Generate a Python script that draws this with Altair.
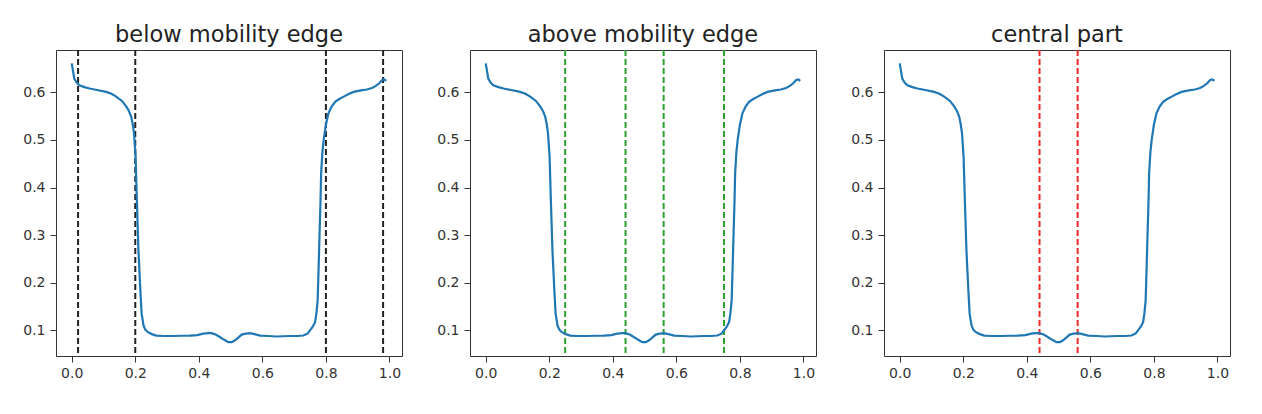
import altair as alt
import pandas as pd

# curve (same in all three panels)
xs = [0.0, 0.008, 0.016, 0.024, 0.04, 0.056, 0.08, 0.108, 0.125, 0.14, 0.158, 0.172, 0.18, 0.187,
      0.192, 0.196, 0.201, 0.205, 0.21, 0.216, 0.22, 0.226, 0.232, 0.24, 0.252, 0.266, 0.29, 0.319,
      0.345, 0.372, 0.395, 0.414, 0.43, 0.44, 0.453, 0.466, 0.48, 0.493, 0.504, 0.514, 0.525, 0.535,
      0.548, 0.561, 0.575, 0.593, 0.62, 0.645, 0.665, 0.687, 0.71, 0.729, 0.742, 0.75, 0.758, 0.766,
      0.77, 0.774, 0.777, 0.78, 0.783, 0.785, 0.789, 0.793, 0.8, 0.808, 0.818, 0.829, 0.842, 0.856,
      0.87, 0.887, 0.91, 0.929, 0.945, 0.956, 0.968, 0.977, 0.984, 0.99]
ys = [0.661, 0.629, 0.62, 0.615, 0.611, 0.608, 0.605, 0.601, 0.597, 0.591, 0.582, 0.570, 0.561, 0.549,
      0.533, 0.514, 0.465, 0.373, 0.268, 0.184, 0.135, 0.11, 0.101, 0.096, 0.092, 0.089, 0.088, 0.088,
      0.0885, 0.089, 0.090, 0.093, 0.094, 0.094, 0.091, 0.086, 0.080, 0.075, 0.075, 0.079, 0.085, 0.091,
      0.093, 0.094, 0.092, 0.089, 0.088, 0.087, 0.0875, 0.088, 0.088, 0.089, 0.093, 0.1, 0.107, 0.117,
      0.135, 0.163, 0.23, 0.303, 0.37, 0.43, 0.475, 0.5, 0.532, 0.556, 0.570, 0.580, 0.586, 0.591,
      0.596, 0.601, 0.604, 0.606, 0.609, 0.613, 0.619, 0.626, 0.627, 0.624]

titles = ["below mobility edge", "above mobility edge", "central part"]
vlines = [[0.02, 0.2, 0.8, 0.98], [0.25, 0.44, 0.56, 0.75], [0.44, 0.56]]
vcolors = ["#222222", "#2ca02c", "#ee2a2a"]

x_ticks = [0.0, 0.2, 0.4, 0.6, 0.8, 1.0]
y_ticks = [0.1, 0.2, 0.3, 0.4, 0.5, 0.6]

curve_df = pd.DataFrame({"x": xs, "y": ys})

FONT = "DejaVu Sans"

xscale = alt.Scale(domain=[-0.0495, 1.0395], nice=False, zero=False)
yscale = alt.Scale(domain=[0.046, 0.689], nice=False, zero=False)

xaxis = alt.Axis(values=x_ticks, format=".1f", title=None, grid=False, domain=False,
                 tickColor="#333333", tickSize=6, tickWidth=1, labelPadding=4, labelFontSize=14,
                 labelColor="#333333", labelFont=FONT)
yaxis = alt.Axis(values=y_ticks, format=".1f", title=None, grid=False, domain=False,
                 tickColor="#333333", tickSize=6, tickWidth=1, labelPadding=5, labelFontSize=14,
                 labelColor="#333333", labelFont=FONT)


def panel(title, lines, color):
    line = alt.Chart(curve_df).mark_line(color="#1f77b4", strokeWidth=2.2).encode(
        x=alt.X("x:Q", scale=xscale, axis=xaxis),
        y=alt.Y("y:Q", scale=yscale, axis=yaxis),
    )
    rules = alt.Chart(pd.DataFrame({"v": lines})).mark_rule(
        color=color, strokeWidth=2, strokeDash=[6, 3]
    ).encode(x=alt.X("v:Q", scale=xscale))
    return alt.layer(rules, line).properties(
        width=346, height=306,
        title=alt.TitleParams(title, fontSize=22.5, font=FONT, fontWeight="normal",
                              color="#222222", offset=3),
    )


chart = alt.hconcat(
    *[panel(t, l, c) for t, l, c in zip(titles, vlines, vcolors)], spacing=33
).properties(
    padding={"left": 14, "top": 15, "right": 5, "bottom": 5}, background="white"
).configure_view(
    stroke="#333333", strokeWidth=1
)

chart.save("out.html", embed_options={"renderer": "svg", "actions": False})
